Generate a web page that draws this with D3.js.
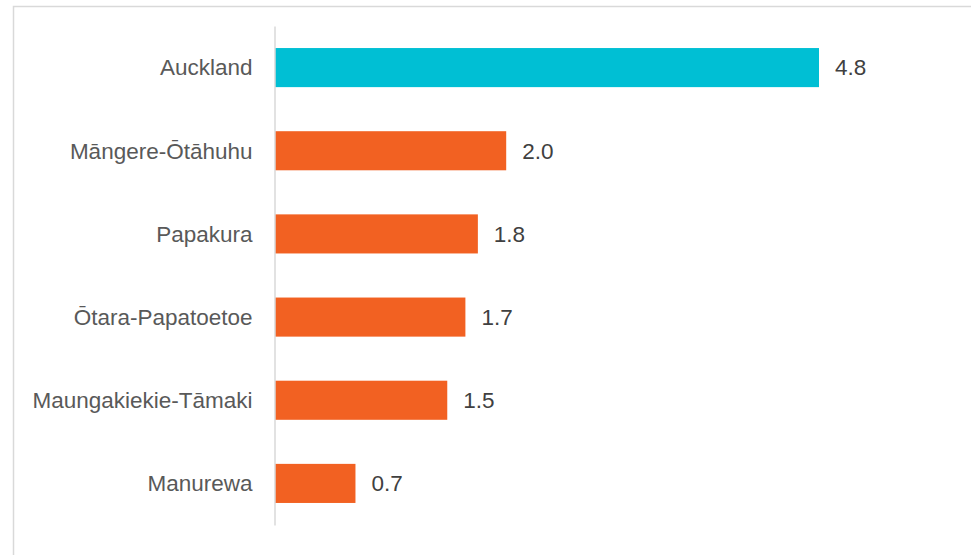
<!DOCTYPE html>
<html>
<head>
<meta charset="utf-8">
<script src="https://cdn.jsdelivr.net/npm/d3@7"></script>
<style>
  body { margin: 0; background: #fff; }
  text { font-family: "Liberation Sans", Arial, sans-serif; }
</style>
</head>
<body>
<svg id="chart" width="971" height="555"></svg>
<script>
// data (bar lengths; labels show one decimal)
var areas = ["Auckland", "Māngere-Ōtāhuhu", "Papakura", "Ōtara-Papatoetoe", "Maungakiekie-Tāmaki", "Manurewa"];
var values = [4.8, 2.04, 1.79, 1.68, 1.52, 0.71];
var highlight = ["Auckland"];

var svg = d3.select("#chart");

// outer frame (runs off the right and bottom edge)
svg.append("rect")
    .attr("x", 13.5).attr("y", 6.5)
    .attr("width", 980).attr("height", 580)
    .attr("fill", "none")
    .attr("stroke", "#d9d9d9")
    .attr("stroke-width", 1.5);

var x = d3.scaleLinear()
    .domain([0, 6])
    .range([275, 955]);

var y = d3.scaleBand()
    .domain(areas)
    .range([26, 525])
    .paddingInner(0.53)
    .paddingOuter(0.265);

var rows = areas.map(function(a, i){ return {name: a, value: values[i]}; });

// bars
svg.append("g")
    .selectAll("rect")
    .data(rows)
   .enter().append("rect")
    .attr("x", x(0))
    .attr("y", d => y(d.name))
    .attr("width", d => x(d.value) - x(0))
    .attr("height", y.bandwidth())
    .attr("fill", d => highlight.indexOf(d.name) > -1 ? "#00bfd4" : "#f26122");

// category axis
var yAxis = svg.append("g")
    .attr("transform", "translate(" + (x(0) - 0.5) + ",0)")
    .call(d3.axisLeft(y).tickSize(0).tickPadding(22));

yAxis.select(".domain")
    .attr("stroke", "#d9d9d9")
    .attr("stroke-width", 1.5);

yAxis.selectAll("text")
    .attr("fill", "#595959")
    .style("font-size", "22.5px")
    .attr("dy", "0.35em");

// value labels
svg.append("g")
    .selectAll("text")
    .data(rows)
   .enter().append("text")
    .attr("x", d => x(d.value) + 16)
    .attr("y", d => y(d.name) + y.bandwidth() / 2)
    .attr("dy", "0.35em")
    .attr("fill", "#404040")
    .style("font-size", "22.5px")
    .text(d => d3.format(".1f")(d.value));
</script>
</body>
</html>
